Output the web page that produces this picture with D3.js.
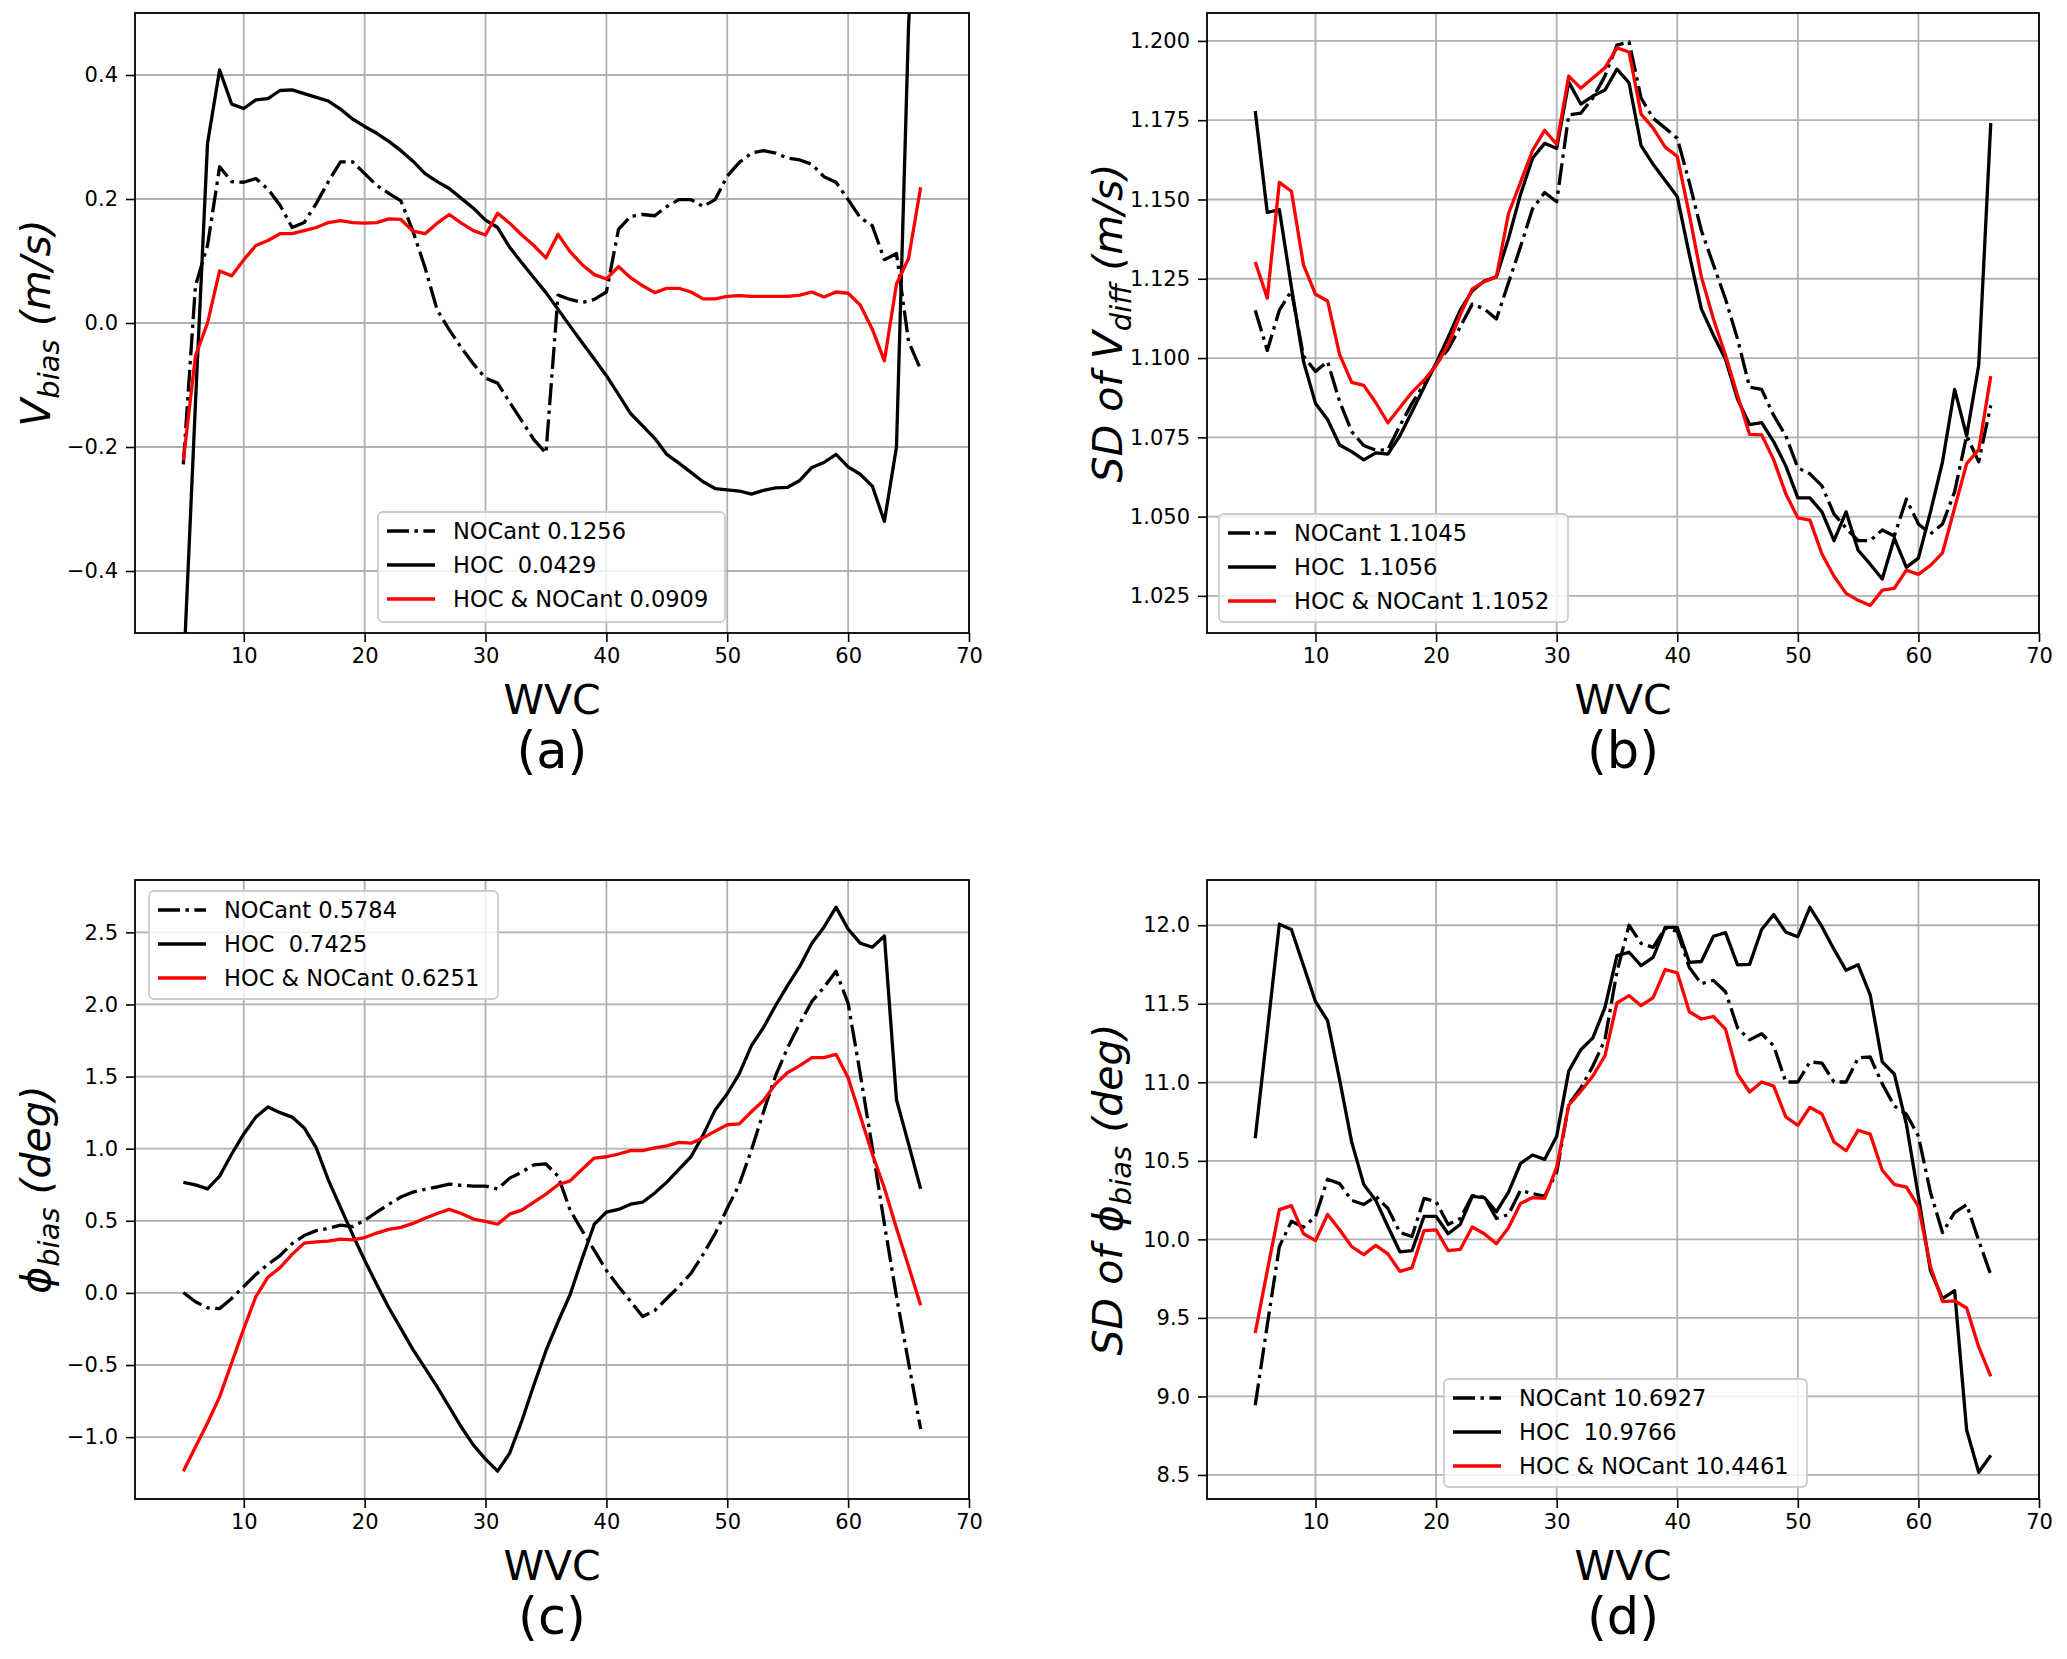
<!DOCTYPE html>
<html>
<head>
<meta charset="utf-8">
<script src="https://cdn.jsdelivr.net/npm/d3@7/dist/d3.min.js"></script>
<style>
  html, body { margin: 0; padding: 0; background: #fff; }
  svg { display: block; font-family: "DejaVu Sans", sans-serif; }
  text { white-space: pre; }
</style>
</head>
<body>
<svg id="chart" width="2067" height="1659"></svg>
<script>
// ---------------- DATA ----------------
const wvc = [5,6,7,8,9,10,11,12,13,14,15,16,17,18,19,20,21,22,23,24,25,26,27,28,29,30,31,32,33,34,35,36,37,38,39,40,41,42,43,44,45,46,47,48,49,50,51,52,53,54,55,56,57,58,59,60,61,62,63,64,65,66];

// (a) V_bias (m/s)
const nocantA = [-0.228,0.060,0.125,0.252,0.228,0.227,0.233,0.216,0.190,0.154,0.162,0.193,0.228,0.260,0.260,0.241,0.222,0.209,0.197,0.148,0.089,0.021,-0.011,-0.040,-0.066,-0.089,-0.097,-0.128,-0.158,-0.188,-0.210,0.045,0.038,0.033,0.038,0.050,0.151,0.172,0.175,0.173,0.188,0.199,0.199,0.188,0.199,0.237,0.259,0.274,0.278,0.274,0.266,0.263,0.256,0.236,0.227,0.199,0.170,0.157,0.102,0.112,-0.030,-0.075];
const hocA = [-0.570,-0.130,0.290,0.408,0.353,0.346,0.360,0.362,0.375,0.376,0.370,0.364,0.358,0.345,0.329,0.317,0.306,0.293,0.278,0.261,0.241,0.228,0.217,0.201,0.185,0.166,0.154,0.122,0.097,0.073,0.049,0.022,-0.005,-0.032,-0.058,-0.085,-0.115,-0.146,-0.166,-0.186,-0.212,-0.226,-0.241,-0.256,-0.267,-0.269,-0.271,-0.276,-0.270,-0.266,-0.265,-0.254,-0.233,-0.225,-0.212,-0.232,-0.244,-0.263,-0.320,-0.200,0.480,0.830];
const bothA = [-0.222,-0.053,0.000,0.084,0.076,0.102,0.125,0.133,0.144,0.144,0.149,0.154,0.162,0.165,0.162,0.161,0.162,0.168,0.167,0.148,0.144,0.161,0.175,0.161,0.149,0.142,0.177,0.161,0.142,0.125,0.105,0.143,0.115,0.094,0.078,0.071,0.091,0.073,0.060,0.049,0.056,0.056,0.050,0.039,0.039,0.043,0.044,0.043,0.043,0.043,0.043,0.045,0.050,0.042,0.050,0.048,0.029,-0.010,-0.061,0.063,0.104,0.219];

// (b) SD of V_diff (m/s)
const nocantB = [1.1151,1.1024,1.1151,1.1212,1.1006,1.0958,1.0989,1.0863,1.0768,1.0724,1.0709,1.0711,1.0787,1.0857,1.0918,1.0981,1.1028,1.1098,1.1170,1.1155,1.1123,1.1237,1.1351,1.1471,1.1522,1.1493,1.1767,1.1772,1.1820,1.1889,1.1987,1.1997,1.1820,1.1756,1.1725,1.1693,1.1554,1.1402,1.1294,1.1186,1.1060,1.0908,1.0901,1.0819,1.0755,1.0654,1.0635,1.0597,1.0508,1.0464,1.0424,1.0424,1.0458,1.0439,1.0555,1.0477,1.0445,1.0477,1.0578,1.0755,1.0673,1.0851];
const hocB = [1.1779,1.1459,1.1468,1.1224,1.0990,1.0857,1.0806,1.0726,1.0705,1.0679,1.0701,1.0697,1.0755,1.0831,1.0908,1.0984,1.1066,1.1151,1.1212,1.1243,1.1256,1.1376,1.1516,1.1630,1.1677,1.1661,1.1870,1.1801,1.1826,1.1845,1.1911,1.1868,1.1670,1.1611,1.1560,1.1509,1.1326,1.1155,1.1072,1.0996,1.0870,1.0790,1.0796,1.0736,1.0660,1.0559,1.0559,1.0515,1.0424,1.0515,1.0394,1.0350,1.0303,1.0432,1.0340,1.0369,1.0515,1.0673,1.0901,1.0755,1.0977,1.1741];
const bothB = [1.1303,1.1189,1.1554,1.1526,1.1294,1.1201,1.1180,1.1011,1.0923,1.0914,1.0859,1.0796,1.0844,1.0892,1.0930,1.0977,1.1041,1.1136,1.1218,1.1241,1.1256,1.1455,1.1554,1.1655,1.1718,1.1674,1.1889,1.1851,1.1883,1.1915,1.1978,1.1965,1.1769,1.1725,1.1665,1.1636,1.1452,1.1256,1.1123,1.1009,1.0882,1.0759,1.0758,1.0679,1.0572,1.0496,1.0489,1.0382,1.0312,1.0258,1.0236,1.0220,1.0268,1.0274,1.0331,1.0318,1.0346,1.0386,1.0527,1.0667,1.0711,1.0943];

// (c) phi_bias (deg)
const nocantC = [0.003,-0.061,-0.103,-0.109,-0.039,0.045,0.128,0.198,0.259,0.342,0.398,0.432,0.448,0.470,0.459,0.504,0.560,0.615,0.665,0.699,0.718,0.735,0.754,0.746,0.741,0.741,0.721,0.796,0.838,0.888,0.894,0.810,0.574,0.430,0.295,0.156,0.045,-0.058,-0.164,-0.122,-0.039,0.045,0.136,0.267,0.412,0.587,0.754,0.991,1.256,1.506,1.701,1.868,2.021,2.119,2.230,2.007,1.520,1.008,0.478,-0.025,-0.484,-0.944];
const hocC = [0.766,0.749,0.721,0.810,0.963,1.102,1.219,1.289,1.250,1.219,1.144,1.005,0.782,0.593,0.406,0.226,0.058,-0.103,-0.248,-0.393,-0.521,-0.651,-0.791,-0.930,-1.055,-1.153,-1.236,-1.111,-0.888,-0.638,-0.401,-0.200,-0.011,0.239,0.476,0.560,0.579,0.615,0.629,0.693,0.768,0.857,0.944,1.094,1.269,1.381,1.520,1.715,1.840,1.993,2.133,2.264,2.425,2.536,2.675,2.522,2.425,2.397,2.475,1.339,1.033,0.721];
const bothC = [-1.236,-1.069,-0.902,-0.721,-0.484,-0.248,-0.025,0.109,0.175,0.267,0.345,0.354,0.359,0.373,0.367,0.384,0.415,0.440,0.454,0.482,0.518,0.551,0.579,0.551,0.512,0.496,0.476,0.546,0.574,0.629,0.685,0.750,0.777,0.857,0.935,0.944,0.963,0.986,0.986,1.005,1.019,1.044,1.038,1.075,1.122,1.166,1.172,1.256,1.334,1.450,1.528,1.576,1.632,1.632,1.654,1.492,1.228,0.963,0.727,0.448,0.184,-0.086];

// (d) SD of phi_bias (deg)
const nocantD = [8.944,9.456,9.954,10.115,10.077,10.146,10.383,10.355,10.248,10.222,10.274,10.197,10.043,10.018,10.261,10.240,10.095,10.133,10.279,10.268,10.133,10.158,10.312,10.291,10.274,10.427,10.861,10.964,11.104,11.270,11.705,12.000,11.884,11.859,11.982,11.962,11.731,11.628,11.649,11.577,11.347,11.270,11.309,11.232,11.002,11.002,11.130,11.122,11.002,11.002,11.155,11.161,10.990,10.849,10.798,10.657,10.299,10.043,10.171,10.222,9.992,9.775];
const hocD = [10.644,11.322,12.007,11.973,11.743,11.513,11.393,11.015,10.619,10.350,10.248,10.082,9.921,9.928,10.146,10.146,10.036,10.095,10.274,10.266,10.176,10.299,10.483,10.537,10.509,10.657,11.071,11.207,11.283,11.475,11.807,11.828,11.743,11.795,11.986,11.986,11.764,11.769,11.930,11.953,11.748,11.751,11.973,12.068,11.956,11.927,12.114,11.991,11.846,11.713,11.748,11.557,11.130,11.053,10.734,10.274,9.801,9.622,9.673,8.786,8.517,8.625];
const bothD = [9.404,9.801,10.189,10.215,10.036,9.992,10.158,10.061,9.954,9.903,9.962,9.908,9.796,9.819,10.056,10.061,9.928,9.936,10.079,10.036,9.972,10.074,10.228,10.266,10.261,10.458,10.854,10.943,11.040,11.168,11.506,11.552,11.488,11.539,11.718,11.697,11.449,11.403,11.419,11.339,11.053,10.938,11.002,10.976,10.780,10.726,10.841,10.798,10.620,10.564,10.695,10.670,10.440,10.350,10.332,10.210,9.826,9.604,9.609,9.563,9.315,9.128];

// legends
const legendA = ["NOCant 0.1256", "HOC  0.0429", "HOC & NOCant 0.0909"];
const legendB = ["NOCant 1.1045", "HOC  1.1056", "HOC & NOCant 1.1052"];
const legendC = ["NOCant 0.5784", "HOC  0.7425", "HOC & NOCant 0.6251"];
const legendD = ["NOCant 10.6927", "HOC  10.9766", "HOC & NOCant 10.4461"];

// ticks
const xTicks = [10,20,30,40,50,60,70];
const yTicksA = [-0.4,-0.2,0.0,0.2,0.4];
const yTicksB = [1.025,1.050,1.075,1.100,1.125,1.150,1.175,1.200];
const yTicksC = [-1.0,-0.5,0.0,0.5,1.0,1.5,2.0,2.5];
const yTicksD = [8.5,9.0,9.5,10.0,10.5,11.0,11.5,12.0];
const panelTags = ["(a)", "(b)", "(c)", "(d)"];
const xTitle = "WVC";

// ---------------- DRAWING ----------------
const svg = d3.select("#chart");
const LW = 3.3;
const DASH = "22,5.5,3.4,5.5";

const panels = [
  { id:"a", x0:135, x1:969, y0:13, y1:633, yDom:[-0.5,0.5], ticks:yTicksA, fmt:d3.format(".1f"),
    series:[nocantA,hocA,bothA], legend:legendA, lg:{x:378,y:512,w:347,h:110},
    label:[{t:"V"},{t:"bias",sub:true},{t:" (m/s)"}], tag:panelTags[0] },
  { id:"b", x0:1207, x1:2039, y0:13, y1:633, yDom:[1.0133,1.2088], ticks:yTicksB, fmt:d3.format(".3f"),
    series:[nocantB,hocB,bothB], legend:legendB, lg:{x:1219,y:514,w:349,h:108},
    label:[{t:"SD of V"},{t:"diff",sub:true},{t:" (m/s)"}], tag:panelTags[1] },
  { id:"c", x0:135, x1:969, y0:880, y1:1499, yDom:[-1.429,2.863], ticks:yTicksC, fmt:d3.format(".1f"),
    series:[nocantC,hocC,bothC], legend:legendC, lg:{x:149,y:891,w:349,h:108},
    label:[{t:"\u03D5"},{t:"bias",sub:true},{t:" (deg)"}], tag:panelTags[2] },
  { id:"d", x0:1207, x1:2039, y0:880, y1:1499, yDom:[8.347,12.288], ticks:yTicksD, fmt:d3.format(".1f"),
    series:[nocantD,hocD,bothD], legend:legendD, lg:{x:1444,y:1379,w:363,h:108},
    label:[{t:"SD of \u03D5"},{t:"bias",sub:true},{t:" (deg)"}], tag:panelTags[3] }
];

const styles = [
  { color:"#000", dash:DASH },
  { color:"#000", dash:null },
  { color:"#ff0000", dash:null }
];

panels.forEach(p => {
  const x = d3.scaleLinear().domain([1,70]).range([p.x0,p.x1]);
  const y = d3.scaleLinear().domain(p.yDom).range([p.y1,p.y0]);
  const g = svg.append("g");

  g.append("clipPath").attr("id","clip-"+p.id)
    .append("rect").attr("x",p.x0).attr("y",p.y0).attr("width",p.x1-p.x0).attr("height",p.y1-p.y0);

  // grid
  g.append("g").selectAll("line").data(xTicks).join("line")
    .attr("x1",d=>x(d)).attr("x2",d=>x(d)).attr("y1",p.y0).attr("y2",p.y1)
    .attr("stroke","#b0b0b0").attr("stroke-width",1.8);
  g.append("g").selectAll("line").data(p.ticks).join("line")
    .attr("x1",p.x0).attr("x2",p.x1).attr("y1",d=>y(d)).attr("y2",d=>y(d))
    .attr("stroke","#b0b0b0").attr("stroke-width",1.8);

  // lines
  const line = d3.line().x((d,i)=>x(wvc[i])).y(d=>y(d));
  const lg = g.append("g").attr("clip-path","url(#clip-"+p.id+")");
  p.series.forEach((s,k) => {
    lg.append("path").datum(s).attr("d",line)
      .attr("fill","none").attr("stroke",styles[k].color).attr("stroke-width",LW)
      .attr("stroke-linejoin","round").attr("stroke-linecap","butt")
      .attr("stroke-dasharray",styles[k].dash);
  });

  // axes
  const xAxis = d3.axisBottom(x).tickValues(xTicks).tickSize(9).tickPadding(6).tickFormat(d3.format("d"));
  const yAxis = d3.axisLeft(y).tickValues(p.ticks).tickSize(9).tickPadding(8).tickFormat(p.fmt);
  const gx = g.append("g").attr("transform",`translate(0,${p.y1})`).call(xAxis);
  const gy = g.append("g").attr("transform",`translate(${p.x0},0)`).call(yAxis);
  [gx,gy].forEach(a => {
    a.select(".domain").remove();
    a.selectAll(".tick line").attr("stroke","#000").attr("stroke-width",1.6);
    a.selectAll(".tick text").attr("fill","#000").attr("font-size",21)
      .attr("font-family","DejaVu Sans");
  });

  // frame
  g.append("rect").attr("x",p.x0).attr("y",p.y0).attr("width",p.x1-p.x0).attr("height",p.y1-p.y0)
    .attr("fill","none").attr("stroke","#000").attr("stroke-width",1.8);

  // legend
  const L = p.lg;
  const lgG = g.append("g");
  lgG.append("rect").attr("x",L.x).attr("y",L.y).attr("width",L.w).attr("height",L.h)
    .attr("rx",5).attr("fill","#fff").attr("fill-opacity",0.8)
    .attr("stroke","#cccccc").attr("stroke-width",1.8);
  p.legend.forEach((t,k) => {
    const cy = L.y + 19 + k*34;
    lgG.append("line").attr("x1",L.x+9).attr("x2",L.x+57).attr("y1",cy).attr("y2",cy)
      .attr("stroke",styles[k].color).attr("stroke-width",LW).attr("stroke-dasharray",styles[k].dash);
    lgG.append("text").attr("x",L.x+75).attr("y",cy+8).attr("font-size",22.5).attr("fill","#000").text(t);
  });

  // y label
  const cx = p.x0 - 85, cyl = (p.y0+p.y1)/2;
  const yl = g.append("text").attr("transform",`translate(${cx},${cyl}) rotate(-90)`)
    .attr("text-anchor","middle").attr("font-size",41).attr("font-style","italic").attr("fill","#000");
  let shifted = false;
  p.label.forEach(part => {
    const ts = yl.append("tspan").text(part.t);
    if (part.sub) { ts.attr("font-size",29).attr("dy",9); shifted = true; }
    else if (shifted) { ts.attr("dy",-9); shifted = false; }
  });

  // x label and tag
  const mx = (p.x0+p.x1)/2;
  g.append("text").attr("x",mx).attr("y",p.y1+81).attr("text-anchor","middle")
    .attr("font-size",41).attr("fill","#000").text(xTitle);
  g.append("text").attr("x",mx).attr("y",p.y1+135).attr("text-anchor","middle")
    .attr("font-size",51).attr("fill","#000").text(p.tag);
});
</script>
</body>
</html>
